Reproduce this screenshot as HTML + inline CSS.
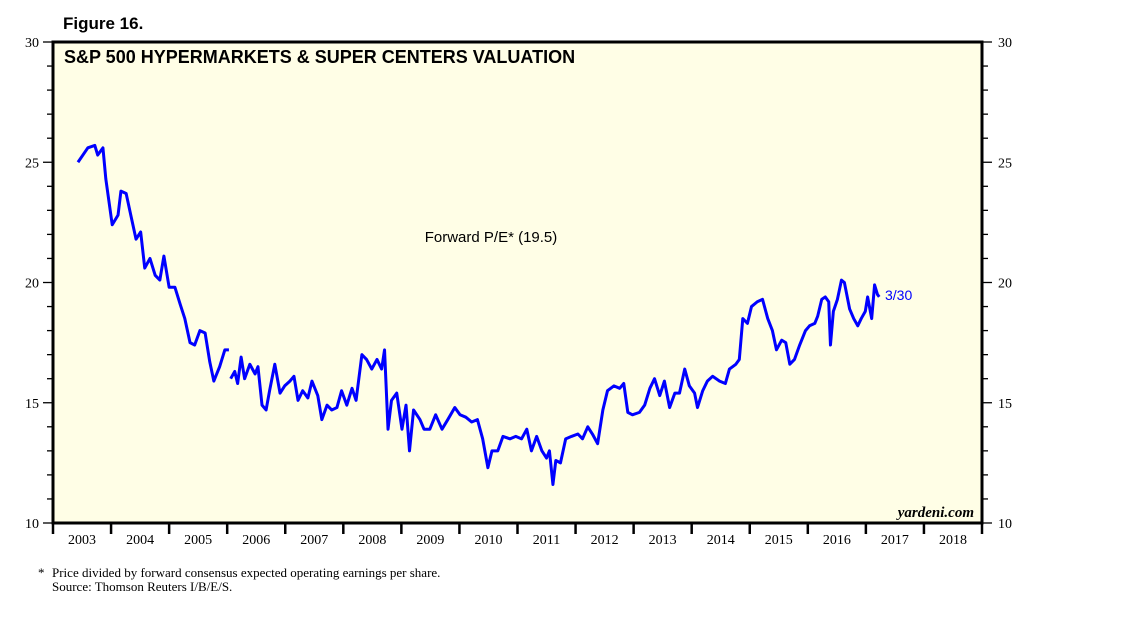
<!DOCTYPE html>
<html><head><meta charset="utf-8"><style>
body{margin:0;background:#fff;}
svg text{font-family:"Liberation Serif",serif;}
</style></head><body>
<svg id="c" width="1138" height="621" viewBox="0 0 1138 621" xmlns="http://www.w3.org/2000/svg">
<text x="63" y="29" font-family="Liberation Sans, sans-serif" font-weight="bold" font-size="17" style="font-family:'Liberation Sans',sans-serif">Figure 16.</text>
<rect x="53" y="42" width="929" height="481" fill="#fffee6"/>
<g id="axes"></g>
<polyline id="line1" fill="none" stroke="#0000ff" stroke-width="3" stroke-linejoin="round"/>
<polyline id="line2" fill="none" stroke="#0000ff" stroke-width="3" stroke-linejoin="round"/>
<rect x="53" y="42" width="929" height="481" fill="none" stroke="#000" stroke-width="3"/>
<text x="64" y="63" font-weight="bold" font-size="18" style="font-family:'Liberation Sans',sans-serif">S&amp;P 500 HYPERMARKETS &amp; SUPER CENTERS VALUATION</text>
<text x="491" y="242" text-anchor="middle" font-size="15" style="font-family:'Liberation Sans',sans-serif">Forward P/E* (19.5)</text>
<text x="885" y="300" font-size="14" fill="#0000ff" style="font-family:'Liberation Sans',sans-serif">3/30</text>
<text x="974" y="517" text-anchor="end" font-size="15" font-style="italic" font-weight="bold">yardeni.com</text>
<text x="38" y="577" font-size="13">*</text>
<text x="52" y="577" font-size="13">Price divided by forward consensus expected operating earnings per share.</text>
<text x="52" y="591" font-size="13">Source: Thomson Reuters I/B/E/S.</text>
</svg>
<script>
const yearLabels=["2003","2004","2005","2006","2007","2008","2009","2010","2011","2012","2013","2014","2015","2016","2017","2018"];
const yTicks=[10,15,20,25,30];
const seg1Years=[0.43,0.60,0.72,0.77,0.86,0.91,1.02,1.12,1.17,1.26,1.34,1.43,1.51,1.58,1.67,1.76,1.84,1.91,2.00,2.10,2.19,2.27,2.36,2.44,2.53,2.62,2.70,2.77,2.87,2.96,3.03];
const seg1Values=[25.0,25.6,25.7,25.3,25.6,24.3,22.4,22.8,23.8,23.7,22.8,21.8,22.1,20.6,21.0,20.3,20.1,21.1,19.8,19.8,19.1,18.5,17.5,17.4,18.0,17.9,16.7,15.9,16.5,17.2,17.2];
const seg2Years=[3.06,3.13,3.18,3.24,3.30,3.39,3.48,3.53,3.60,3.67,3.73,3.82,3.91,3.99,4.08,4.15,4.22,4.30,4.39,4.46,4.56,4.63,4.72,4.80,4.89,4.97,5.06,5.15,5.22,5.32,5.40,5.49,5.58,5.66,5.71,5.77,5.83,5.92,6.01,6.08,6.14,6.21,6.32,6.39,6.49,6.59,6.70,6.80,6.92,7.01,7.11,7.21,7.31,7.40,7.49,7.56,7.66,7.75,7.87,7.97,8.07,8.16,8.24,8.33,8.42,8.50,8.55,8.61,8.66,8.74,8.83,8.93,9.04,9.12,9.21,9.29,9.38,9.47,9.55,9.66,9.76,9.83,9.90,9.98,10.10,10.19,10.28,10.36,10.45,10.53,10.62,10.71,10.79,10.88,10.96,11.05,11.10,11.19,11.27,11.36,11.48,11.58,11.65,11.76,11.82,11.88,11.96,12.03,12.13,12.22,12.31,12.39,12.46,12.55,12.62,12.69,12.77,12.86,12.96,13.03,13.12,13.17,13.24,13.30,13.36,13.39,13.44,13.51,13.58,13.63,13.72,13.79,13.86,13.92,13.99,14.03,14.10,14.15,14.20,14.23];
const seg2Values=[16.0,16.3,15.8,16.9,16.0,16.6,16.2,16.5,14.9,14.7,15.5,16.6,15.4,15.7,15.9,16.1,15.1,15.5,15.2,15.9,15.3,14.3,14.9,14.7,14.8,15.5,14.9,15.6,15.1,17.0,16.8,16.4,16.8,16.4,17.2,13.9,15.1,15.4,13.9,14.9,13.0,14.7,14.3,13.9,13.9,14.5,13.9,14.3,14.8,14.5,14.4,14.2,14.3,13.5,12.3,13.0,13.0,13.6,13.5,13.6,13.5,13.9,13.0,13.6,13.0,12.7,13.0,11.6,12.6,12.5,13.5,13.6,13.7,13.5,14.0,13.7,13.3,14.7,15.5,15.7,15.6,15.8,14.6,14.5,14.6,14.9,15.6,16.0,15.3,15.9,14.8,15.4,15.4,16.4,15.7,15.4,14.8,15.5,15.9,16.1,15.9,15.8,16.4,16.6,16.8,18.5,18.3,19.0,19.2,19.3,18.5,18.0,17.2,17.6,17.5,16.6,16.8,17.4,18.0,18.2,18.3,18.6,19.3,19.4,19.2,17.4,18.8,19.3,20.1,20.0,18.9,18.5,18.2,18.5,18.8,19.4,18.5,19.9,19.5,19.4];

const L=53,R=982,T=42,B=523;
const xs=t=>L+t*(R-L)/16;
const ys=v=>B-(v-10)*(B-T)/20;
const NS="http://www.w3.org/2000/svg";
const g=document.getElementById('axes');
function mk(tag,attrs){const e=document.createElementNS(NS,tag);for(const k in attrs)e.setAttribute(k,attrs[k]);g.appendChild(e);return e;}
for(let v=10;v<=30;v++){
  const y=ys(v),len=(v%5===0)?10:6;
  const a=mk('line',{x1:L-len,x2:L,y1:y,y2:y,stroke:'#000','stroke-width':1.3});
  
  
  const b=mk('line',{x1:R,x2:R+len,y1:y,y2:y,stroke:'#000','stroke-width':1.3});
  
  
}
yTicks.forEach(v=>{
  const t1=mk('text',{x:L-14,y:ys(v)+5,'text-anchor':'end','font-size':14});
  t1.textContent=v;
  
  
  const t2=mk('text',{x:R+16,y:ys(v)+5,'font-size':14});
  t2.textContent=v;
  
  
});
for(let i=0;i<=16;i++){
  const tk=mk('line',{x1:xs(i),x2:xs(i),y1:B,y2:B+11,stroke:'#000','stroke-width':2.5});
  
  
}
yearLabels.forEach((s,i)=>{
  const t=mk('text',{x:xs(i+0.5),y:B+21,'text-anchor':'middle','font-size':14});
  t.textContent=s;
  
  
});
document.getElementById('line1').setAttribute('points',seg1Years.map((t,i)=>xs(t)+','+ys(seg1Values[i])).join(' '));
document.getElementById('line2').setAttribute('points',seg2Years.map((t,i)=>xs(t)+','+ys(seg2Values[i])).join(' '));
</script>
</body></html>
